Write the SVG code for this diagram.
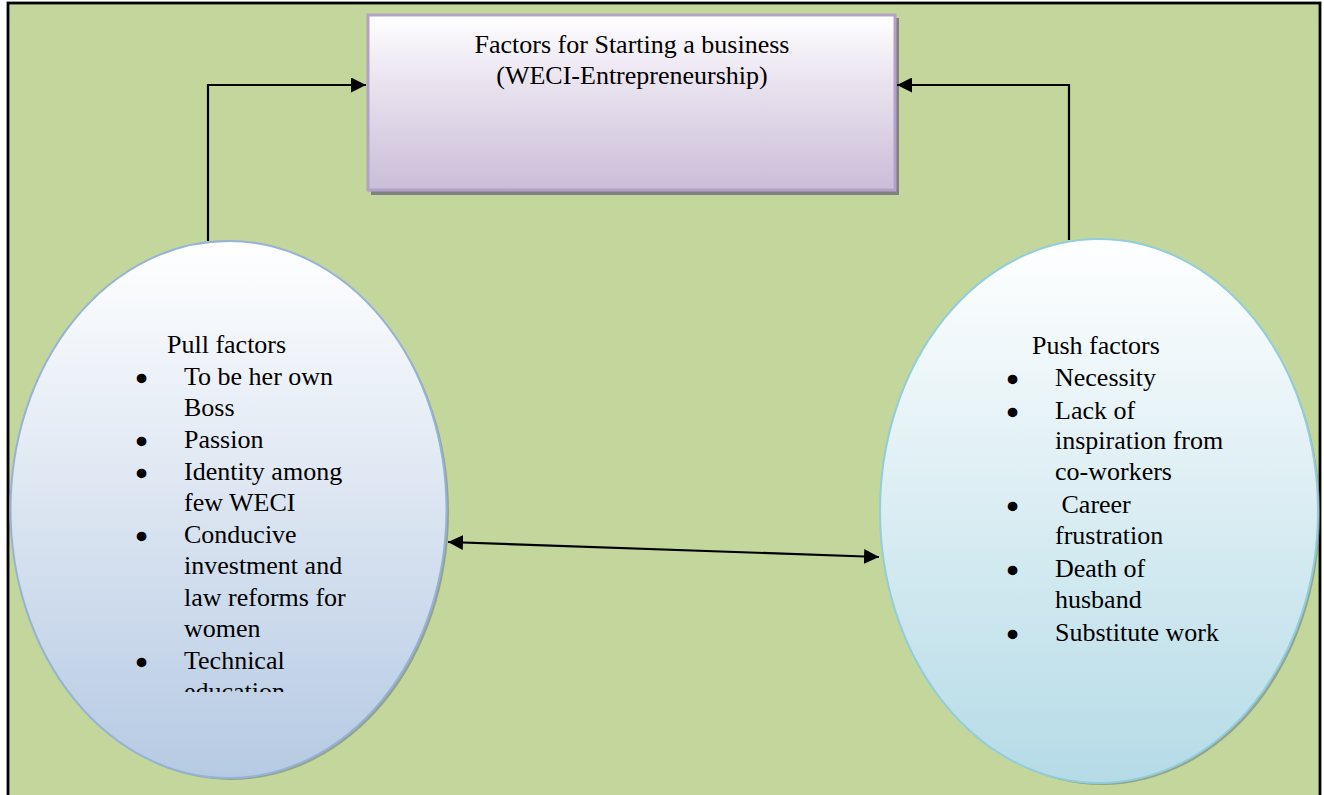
<svg xmlns="http://www.w3.org/2000/svg" width="1324" height="795" viewBox="0 0 1324 795">
<style>
.t{font-family:"Liberation Serif","Times New Roman",serif;font-size:26px;fill:#000}
.b{font-family:"Liberation Serif","Times New Roman",serif;font-size:26px;font-weight:bold;fill:#000;stroke:#000;stroke-width:2.6;stroke-linejoin:round}
.c{fill:none;stroke:#000;stroke-width:2.2}
</style>
<defs>
<linearGradient id="gBox" x1="0" y1="0" x2="0" y2="1">
<stop offset="0" stop-color="#ffffff"/>
<stop offset="0.35" stop-color="#ebe5f0"/>
<stop offset="1" stop-color="#cbbdd9"/>
</linearGradient>
<linearGradient id="gL" x1="0" y1="0" x2="0" y2="1">
<stop offset="0" stop-color="#ffffff"/>
<stop offset="1" stop-color="#b6cae3"/>
</linearGradient>
<linearGradient id="gR" x1="0" y1="0" x2="0" y2="1">
<stop offset="0" stop-color="#ffffff"/>
<stop offset="1" stop-color="#b5dbe7"/>
</linearGradient>
<marker id="ah" viewBox="0 0 10 10" refX="10" refY="5" markerWidth="15" markerHeight="15" markerUnits="userSpaceOnUse" orient="auto-start-reverse">
<path d="M0,0 L10,5 L0,10 z" fill="#000"/>
</marker>
<clipPath id="clipL"><rect x="0" y="200" width="460" height="492"/></clipPath>
</defs>
<rect x="8" y="3" width="1312" height="800" fill="#c3d69b" stroke="#000" stroke-width="2.8"/>

<g id="box">
<rect x="371" y="18" width="528" height="177" fill="#808080"/>
<rect x="368" y="15" width="527" height="175" fill="url(#gBox)" stroke="#b3a2c8" stroke-width="3"/>
<text class="t" x="632" y="53" text-anchor="middle">Factors for Starting a business</text>
<text class="t" x="632" y="84" text-anchor="middle">(WECI-Entrepreneurship)</text>
</g>

<g id="pull">
<ellipse cx="231" cy="512" rx="218" ry="268" fill="#7f8f80" opacity="0.7"/>
<ellipse cx="228.5" cy="509.5" rx="218" ry="268.5" fill="url(#gL)" stroke="#95b3d7" stroke-width="2"/>
<g clip-path="url(#clipL)">
<text class="t" x="167" y="353">Pull factors</text>
<text class="b" x="137" y="387">•</text>
<text class="t" x="184" y="385">To be her own</text>
<text class="t" x="184" y="416">Boss</text>
<text class="b" x="137" y="450">•</text>
<text class="t" x="184" y="448">Passion</text>
<text class="b" x="137" y="482">•</text>
<text class="t" x="184" y="480">Identity among</text>
<text class="t" x="184" y="511">few WECI</text>
<text class="b" x="137" y="545">•</text>
<text class="t" x="184" y="543">Conducive</text>
<text class="t" x="184" y="574">investment and</text>
<text class="t" x="184" y="606">law reforms for</text>
<text class="t" x="184" y="637">women</text>
<text class="b" x="137" y="671">•</text>
<text class="t" x="184" y="669">Technical</text>
<text class="t" x="184" y="700">education</text>
</g>
</g>

<g id="push">
<ellipse cx="1102" cy="514" rx="218" ry="271" fill="#7f8f80" opacity="0.7"/>
<ellipse cx="1099" cy="511" rx="219" ry="272" fill="url(#gR)" stroke="#92cddc" stroke-width="2"/>
<text class="t" x="1032" y="354">Push factors</text>
<text class="b" x="1008" y="388">•</text>
<text class="t" x="1055" y="386">Necessity</text>
<text class="b" x="1008" y="421">•</text>
<text class="t" x="1055" y="419">Lack of</text>
<text class="t" x="1055" y="449">inspiration from</text>
<text class="t" x="1055" y="480">co-workers</text>
<text class="b" x="1008" y="515">•</text>
<text class="t" x="1055" y="513" xml:space="preserve"> Career</text>
<text class="t" x="1055" y="544">frustration</text>
<text class="b" x="1008" y="579">•</text>
<text class="t" x="1055" y="577">Death of</text>
<text class="t" x="1055" y="608">husband</text>
<text class="b" x="1008" y="643">•</text>
<text class="t" x="1055" y="641">Substitute work</text>
</g>

<g id="connectors">
<path class="c" d="M208,241 V85 H366" marker-end="url(#ah)"/>
<path class="c" d="M1069,240 V85 H897" marker-end="url(#ah)"/>
<path class="c" d="M448,542 L879,557" marker-start="url(#ah)" marker-end="url(#ah)"/>
</g>
</svg>
